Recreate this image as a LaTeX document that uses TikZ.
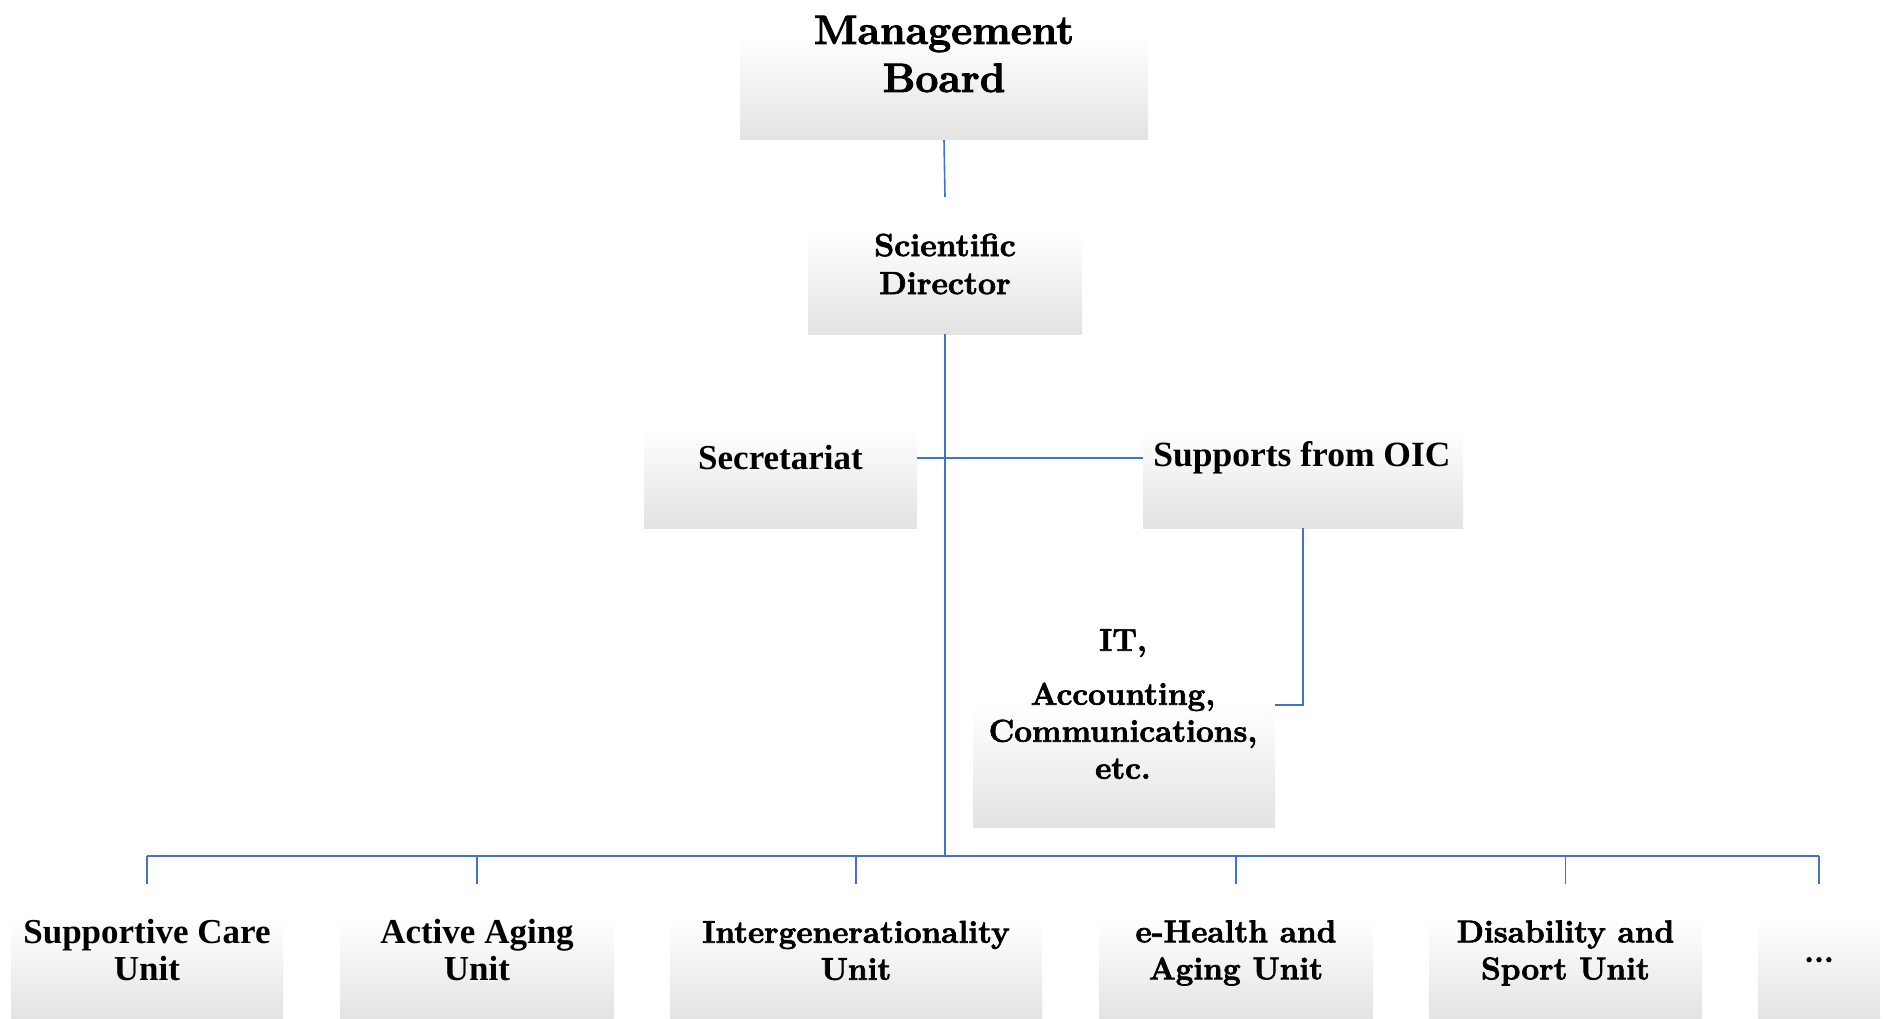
\documentclass[tikz,border=0pt]{standalone}
\usepackage{fontspec}
\newfontfamily\timesfont{Liberation Serif}
\newfontfamily\garafont[BoldFeatures={FakeBold=2.2}]{Latin Modern Roman}
\usetikzlibrary{positioning}
\definecolor{linkblue}{HTML}{4472C4}
\pgfdeclareverticalshading{panelshade}{100bp}{color(0bp)=(gray!22); color(25bp)=(gray!22); color(62bp)=(white); color(100bp)=(white)}

\tikzset{
  panel/.style={draw=none, inner sep=0pt, shading=panelshade},
  link/.style={draw=linkblue, line width=1.6pt},
  garatext/.style={font=\garafont\bfseries\fontsize{31.5}{37}\selectfont, align=center, inner sep=0pt},
  timestext/.style={font=\timesfont\bfseries\fontsize{35}{37}\selectfont, align=center, inner sep=0pt},
}

\begin{document}
\begin{tikzpicture}[x=1pt, y=-1pt]
    \useasboundingbox (0,0) rectangle (1885,1019);

    % boxes
    \node[panel, minimum width=408pt, minimum height=140pt] (board) at (944,70) {};
    \node[panel, minimum width=274pt, minimum height=137pt] (sci) at (945,265.5) {};
    \node[panel, minimum width=273pt, minimum height=137pt] (secr) at (780.5,459.5) {};
    \node[panel, minimum width=320pt, minimum height=137pt] (supp) at (1303,459.5) {};
    \node[panel, minimum width=302pt, minimum height=167pt] (it) at (1124,743.5) {};

    \node[panel, minimum width=272pt, minimum height=135pt] (u1) at (147,951.5) {};
    \node[panel, minimum width=274pt, minimum height=135pt] (u2) at (477,951.5) {};
    \node[panel, minimum width=372pt, minimum height=135pt] (u3) at (856,951.5) {};
    \node[panel, minimum width=274pt, minimum height=135pt] (u4) at (1236,951.5) {};
    \node[panel, minimum width=273pt, minimum height=135pt] (u5) at (1565.5,951.5) {};
    \node[panel, minimum width=122pt, minimum height=135pt] (u6) at (1819,951.5) {};

    % texts
    \node[garatext, font=\garafont\bfseries\fontsize{41}{48}\selectfont] (boardtxt) at (944,54) {Management\\Board};
    \node[garatext, font=\garafont\bfseries\fontsize{32}{38}\selectfont] (scitxt) at (945,264) {Scientific\\Director};
    \node[timestext] (secrtxt) at (780.5,458) {Secretariat};
    \node[timestext, font=\timesfont\bfseries\fontsize{35.5}{37}\selectfont] (supptxt) at (1302,458) {Supports from OIC};
    \node[garatext] (ittxt) at (1123,704) {IT,\\[17pt]Accounting,\\Communications,\\etc.};

    \node[timestext] (u1txt) at (147,950.5) {Supportive Care\\Unit};
    \node[timestext] (u2txt) at (477,950.5) {Active Aging\\Unit};
    \node[garatext] (u3txt) at (856,950.5) {Intergenerationality\\Unit};
    \node[garatext] (u4txt) at (1236,953) {e-Health and\\Aging Unit};
    \node[garatext] (u5txt) at (1565.5,953) {Disability and\\Sport Unit};
    \node[garatext, anchor=base] (u6txt) at (1819,962) {...};

    % connectors
    \coordinate (bus) at (0,856);
    \coordinate (itjoin) at ([yshift=38.5pt]it.east);
    \draw[link] (board.south) -- (sci.north);
    \draw[link] (sci.south) -- (sci.south |- bus);
    \draw[link] (secr.east |- secrtxt) -- (supp.west |- secrtxt);
    \draw[link] (supp.south) |- (itjoin);
    \draw[link] (u1.north |- bus) -- (u6.north |- bus);
    \foreach \u in {u1,u2,u3,u4,u5,u6}
        \draw[link] (\u.north |- bus) -- (\u.north);

\end{tikzpicture}
\end{document}
